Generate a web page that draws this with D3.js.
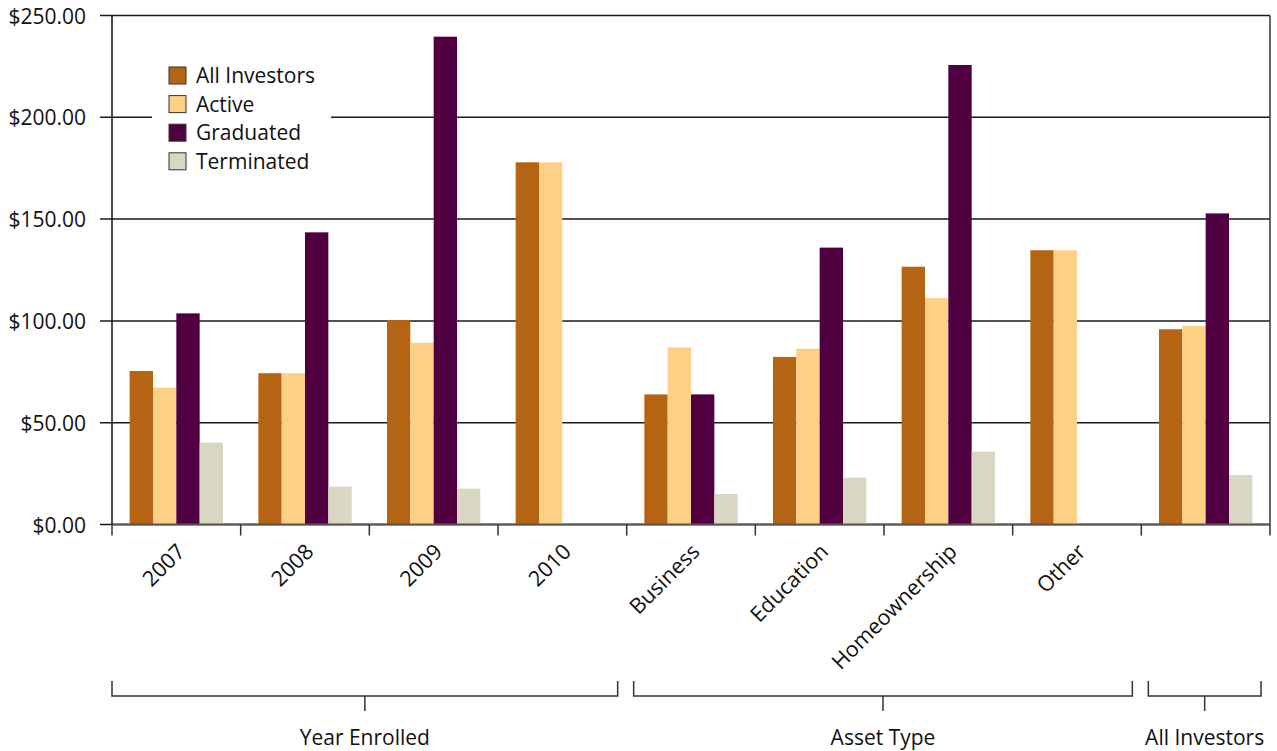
<!DOCTYPE html>
<html lang="en">
<head>
    <meta charset="UTF-8">
    <title>Average savings by investor status</title>
    <script src="https://d3js.org/d3.v7.min.js"></script>
    <style>
        body { margin: 0; background: #fff; }
        text { font-family: "Open Sans", "Noto Sans", sans-serif; fill: #111; }
        .ytick text { font-size: 21px; }
        .xlabel { font-size: 21.5px; }
        .legend text { font-size: 21px; }
        .section text { font-size: 21px; }
    </style>
</head>
<body>
<script>
    // chart data
    var categories = ["2007", "2008", "2009", "2010", "Business", "Education", "Homeownership", "Other", "All Investors"];
    var tickLabels = ["2007", "2008", "2009", "2010", "Business", "Education", "Homeownership", "Other", ""];
    var seriesNames = ["All Investors", "Active", "Graduated", "Terminated"];
    var allInvestors = [75.4, 74.3, 100.4, 177.9, 63.9, 82.3, 126.6, 134.7, 95.9];
    var active = [67.2, 74.3, 89.3, 177.9, 87.0, 86.3, 111.2, 134.7, 97.6];
    var graduated = [103.7, 143.5, 239.6, null, 63.9, 136.0, 225.7, null, 152.8];
    var terminated = [40.2, 18.6, 17.6, null, 15.0, 23.0, 35.8, null, 24.3];
    var yTicks = [0, 50, 100, 150, 200, 250];
    var sections = [
        { name: "Year Enrolled", from: "2007", to: "2010" },
        { name: "Asset Type", from: "Business", to: "Other" },
        { name: "All Investors", from: "All Investors", to: "All Investors" }
    ];

    var colors = ["#b56414", "#fed085", "#500041", "#d9d6c4"];
    var seriesValues = [allInvestors, active, graduated, terminated];

    var width = 1277, height = 751;
    var plotLeft = 112, plotRight = 1270, plotTop = 15.5, plotBottom = 524.5;

    var svg = d3.select("body").append("svg")
        .attr("width", width)
        .attr("height", height);

    var x0 = d3.scaleBand().domain(categories).range([plotLeft, plotRight]);
    var x1 = d3.scaleBand().domain(seriesNames).range([0, x0.bandwidth()]).paddingOuter(0.757);
    var y = d3.scaleLinear().domain([0, 250]).range([plotBottom, plotTop]);

    // gridlines, reaching out past the axis as ticks
    svg.append("g")
        .selectAll("line")
        .data(yTicks)
        .enter().append("line")
        .attr("x1", plotLeft - 12)
        .attr("x2", plotRight)
        .attr("y1", function(d) { return y(d); })
        .attr("y2", function(d) { return y(d); })
        .attr("stroke", "#1a1a1a")
        .attr("stroke-width", 1.5);

    // y labels through an axis
    var yAxis = svg.append("g")
        .attr("class", "ytick")
        .attr("transform", "translate(" + plotLeft + ",0)")
        .call(d3.axisLeft(y).tickValues(yTicks).tickSize(0).tickPadding(26)
            .tickFormat(function(d) { return "$" + d3.format(".2f")(d); }));
    yAxis.select(".domain").remove();
    yAxis.selectAll("text").attr("dy", "0.36em").style("fill", "#111");

    // bars
    var groups = svg.append("g")
        .selectAll("g")
        .data(categories)
        .enter().append("g")
        .attr("transform", function(d) { return "translate(" + x0(d) + ",0)"; });

    groups.selectAll("rect")
        .data(function(d, i) {
            return seriesNames.map(function(s, j) { return { key: s, value: seriesValues[j][i], color: colors[j] }; })
                .filter(function(e) { return e.value != null; });
        })
        .enter().append("rect")
        .attr("x", function(d) { return x1(d.key); })
        .attr("width", x1.bandwidth())
        .attr("y", function(d) { return y(d.value); })
        .attr("height", function(d) { return y(0) - y(d.value); })
        .attr("fill", function(d) { return d.color; });

    // x axis line, left and right borders
    svg.append("line")
        .attr("x1", plotLeft).attr("x2", plotRight)
        .attr("y1", y(0)).attr("y2", y(0))
        .attr("stroke", "#555").attr("stroke-width", 2);
    svg.append("line")
        .attr("x1", plotLeft).attr("x2", plotLeft)
        .attr("y1", plotTop).attr("y2", y(0))
        .attr("stroke", "#111").attr("stroke-width", 1.5);
    svg.append("line")
        .attr("x1", plotRight).attr("x2", plotRight)
        .attr("y1", plotTop).attr("y2", y(0))
        .attr("stroke", "#333").attr("stroke-width", 1.5);

    // ticks at category boundaries
    var bounds = categories.map(function(c) { return x0(c); }).concat([plotRight]);
    svg.append("g")
        .selectAll("line")
        .data(bounds)
        .enter().append("line")
        .attr("x1", function(d) { return d; })
        .attr("x2", function(d) { return d; })
        .attr("y1", y(0))
        .attr("y2", y(0) + 11)
        .attr("stroke", "#333")
        .attr("stroke-width", 1.5);

    // rotated category labels
    svg.append("g")
        .selectAll("text")
        .data(categories)
        .enter().append("text")
        .attr("class", "xlabel")
        .attr("text-anchor", "end")
        .attr("transform", function(d) {
            return "translate(" + (x0(d) + x0.bandwidth() / 2 + 10) + "," + 553 + ") rotate(-45)";
        })
        .text(function(d, i) { return tickLabels[i]; });

    // section brackets
    var sec = svg.append("g")
        .attr("class", "section")
        .selectAll("g")
        .data(sections)
        .enter().append("g");

    sec.each(function(d, i) {
        var g = d3.select(this);
        var a = x0(d.from) + (i === 0 ? 0 : 7);
        var b = x0(d.to) + x0.bandwidth() - 9;
        var mid = (a + b) / 2;
        g.append("path")
            .attr("d", "M" + a + ",681V696H" + b + "V681M" + mid + ",696V711")
            .attr("fill", "none")
            .attr("stroke", "#333")
            .attr("stroke-width", 1.5);
        g.append("text")
            .attr("x", mid)
            .attr("y", 745)
            .attr("text-anchor", "middle")
            .text(d.name);
    });

    // legend
    var legend = svg.append("g").attr("class", "legend");
    legend.append("rect")
        .attr("x", 152).attr("y", 52)
        .attr("width", 179).attr("height", 130)
        .attr("fill", "#fff");
    var items = legend.selectAll("g.item")
        .data(seriesNames)
        .enter().append("g")
        .attr("class", "item")
        .attr("transform", function(d, i) { return "translate(169," + (67 + i * 28.6) + ")"; });
    items.append("rect")
        .attr("width", 17).attr("height", 17)
        .attr("fill", function(d, i) { return colors[i]; })
        .attr("stroke", "#333")
        .attr("stroke-width", 1);
    items.append("text")
        .attr("x", 27)
        .attr("y", 16)
        .text(function(d) { return d; });
</script>
</body>
</html>
